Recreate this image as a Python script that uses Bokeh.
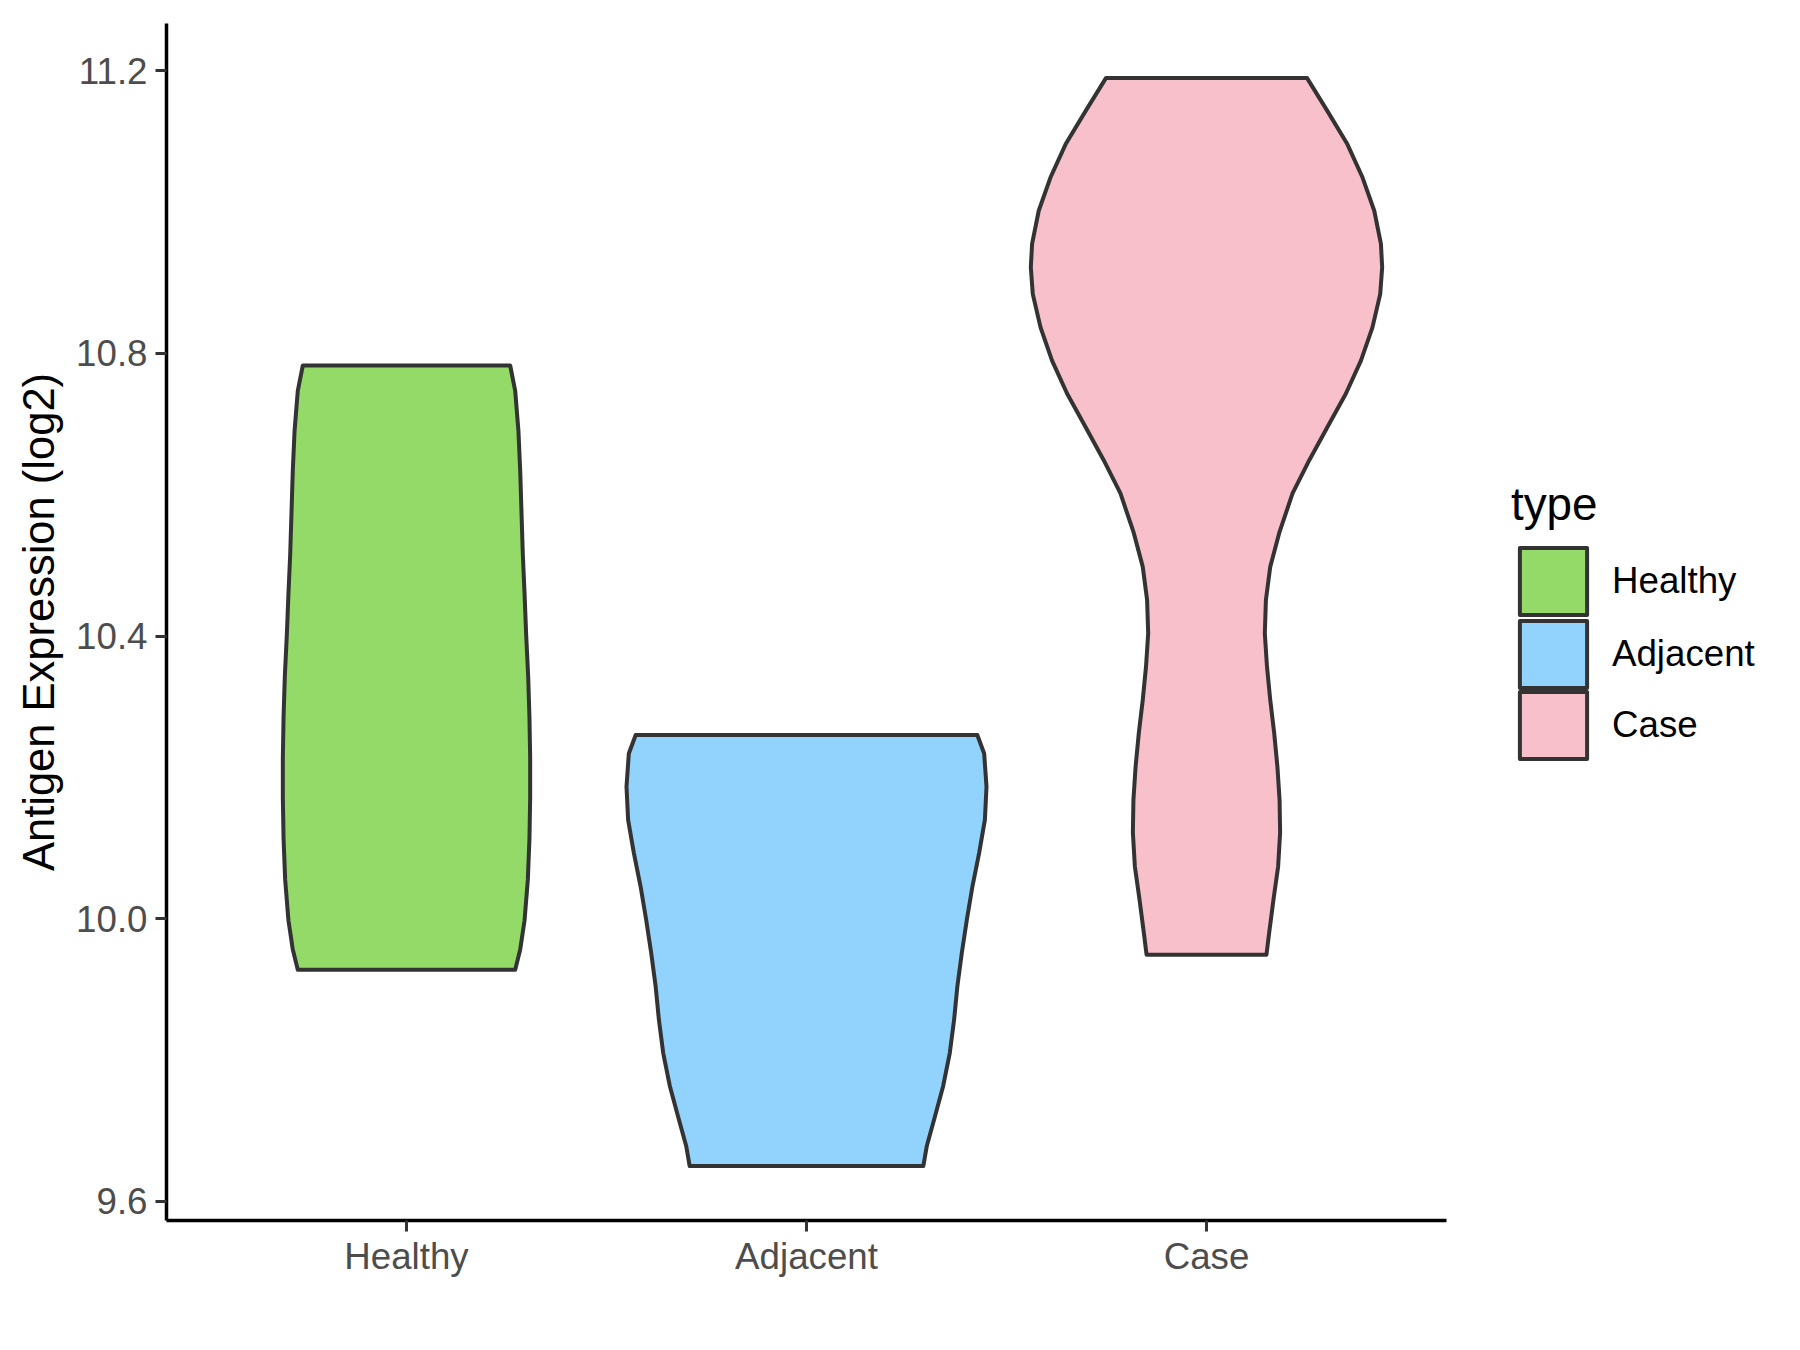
from bokeh.plotting import figure
from bokeh.models import Range1d, FixedTicker, Legend, LegendItem
from bokeh.embed import file_html
from bokeh.resources import INLINE

# ---- data ----
categories = ["Healthy", "Adjacent", "Case"]
colors = ["#93DA69", "#92D3FE", "#F7C0CB"]

# y positions (expression, log2) and relative density (scaled, max ~1) along each violin outline
healthy_y = [10.783, 10.747, 10.690, 10.632, 10.574, 10.517, 10.459, 10.401, 10.343,
             10.286, 10.228, 10.171, 10.113, 10.055, 9.998, 9.957, 9.928]
healthy_d = [0.576, 0.604, 0.622, 0.632, 0.639, 0.646, 0.656, 0.665, 0.676,
             0.683, 0.687, 0.687, 0.683, 0.674, 0.656, 0.632, 0.604]

adjacent_y = [10.260, 10.234, 10.187, 10.140, 10.093, 10.046, 9.999, 9.952, 9.904,
              9.857, 9.810, 9.763, 9.716, 9.678, 9.650]
adjacent_d = [0.949, 0.987, 1.000, 0.991, 0.959, 0.922, 0.891, 0.863, 0.838,
              0.820, 0.796, 0.759, 0.709, 0.668, 0.649]

case_y = [11.190, 11.143, 11.096, 11.049, 11.002, 10.955, 10.922, 10.884, 10.837, 10.790,
          10.743, 10.696, 10.649, 10.602, 10.546, 10.498, 10.451, 10.404, 10.357, 10.310,
          10.263, 10.215, 10.168, 10.122, 10.074, 10.027, 9.980, 9.949]
case_d = [0.558, 0.672, 0.783, 0.867, 0.932, 0.969, 0.976, 0.965, 0.922, 0.858,
          0.774, 0.672, 0.571, 0.478, 0.404, 0.354, 0.330, 0.324, 0.336, 0.354,
          0.376, 0.394, 0.406, 0.409, 0.398, 0.372, 0.348, 0.333]

y_ticks = [9.6, 10.0, 10.4, 10.8, 11.2]
y_tick_labels = ["9.6", "10.0", "10.4", "10.8", "11.2"]

groups = [(healthy_y, healthy_d), (adjacent_y, adjacent_d), (case_y, case_d)]

all_y = healthy_y + adjacent_y + case_y
lo, hi = min(all_y), max(all_y)
pad = 0.05 * (hi - lo)

FONT = "Liberation Sans"

W, H = 1784, 1334
LEFT, TOP, BOTTOM = 166, 23, 114
PANEL_W = 1280                      # width of the data panel (x from 0.4 to 3.6)
x_lo, x_hi = 0.4, 3.6
x_end = x_lo + (x_hi - x_lo) * (W - LEFT) / PANEL_W   # frame extends to the right to host the legend

p = figure(width=W, height=H,
           x_range=Range1d(x_lo, x_end), y_range=Range1d(lo - pad, hi + pad),
           output_backend="svg", toolbar_location=None,
           min_border_left=LEFT, min_border_right=0,
           min_border_top=TOP, min_border_bottom=BOTTOM)

p.background_fill_color = "white"
p.border_fill_color = "white"
p.outline_line_color = None
p.xgrid.grid_line_color = None
p.ygrid.grid_line_color = None

half = 0.45
renderers = []
for i, (ys, ds) in enumerate(groups):
    cx = i + 1
    left = [cx - half * d for d in ds]
    right = [cx + half * d for d in ds]
    xs = left + right[::-1]
    yy = list(ys) + list(ys)[::-1]
    r = p.patch(xs, yy, fill_color=colors[i], line_color="#333333", line_width=4,
                line_join="round")
    renderers.append(r)

# axes
for ax in (p.xaxis[0], p.yaxis[0]):
    ax.axis_line_color = "black"
    ax.axis_line_width = 3.5
    ax.major_tick_line_color = "#333333"
    ax.major_tick_line_width = 3
    ax.major_tick_out = 11
    ax.major_tick_in = 0
    ax.minor_tick_line_color = None
    ax.major_label_text_font = FONT
    ax.major_label_text_font_size = "36.7px"
    ax.major_label_text_color = "#4D4D4D"

p.xaxis.bounds = (x_lo, x_hi)
p.xaxis.ticker = FixedTicker(ticks=[1, 2, 3])
p.xaxis.major_label_overrides = {1: categories[0], 2: categories[1], 3: categories[2]}
p.xaxis.major_label_standoff = 4

p.yaxis.ticker = FixedTicker(ticks=y_ticks)
p.yaxis.major_label_overrides = {t: l for t, l in zip(y_ticks, y_tick_labels)}
p.yaxis.major_label_standoff = 8
p.yaxis.axis_label = "Antigen Expression (log2)"
p.yaxis.axis_label_text_font = FONT
p.yaxis.axis_label_text_font_size = "43.5px"
p.yaxis.axis_label_text_font_style = "normal"
p.yaxis.axis_label_text_color = "black"
p.yaxis.axis_label_standoff = 10

# legend: one entry block per category, stacked with the key pitch of the reference
legend_x = 1345
legend_bottoms = [597, 524, 453]
for i, (c, r) in enumerate(zip(categories, renderers)):
    lg = Legend(items=[LegendItem(label=c, renderers=[r])],
                location=(legend_x, legend_bottoms[i]))
    if i == 0:
        lg.title = "type"
        lg.title_text_font = FONT
        lg.title_text_font_size = "45.8px"
        lg.title_text_font_style = "normal"
        lg.title_text_color = "black"
        lg.title_standoff = 8
    lg.label_text_font = FONT
    lg.label_text_font_size = "36.7px"
    lg.label_text_color = "black"
    lg.glyph_width = 84
    lg.glyph_height = 84
    lg.label_height = 84
    lg.label_standoff = 17
    lg.spacing = 0
    lg.padding = 0
    lg.margin = 0
    lg.border_line_color = None
    lg.background_fill_alpha = 0
    p.add_layout(lg)

open("out.html", "w").write(file_html(p, INLINE))
